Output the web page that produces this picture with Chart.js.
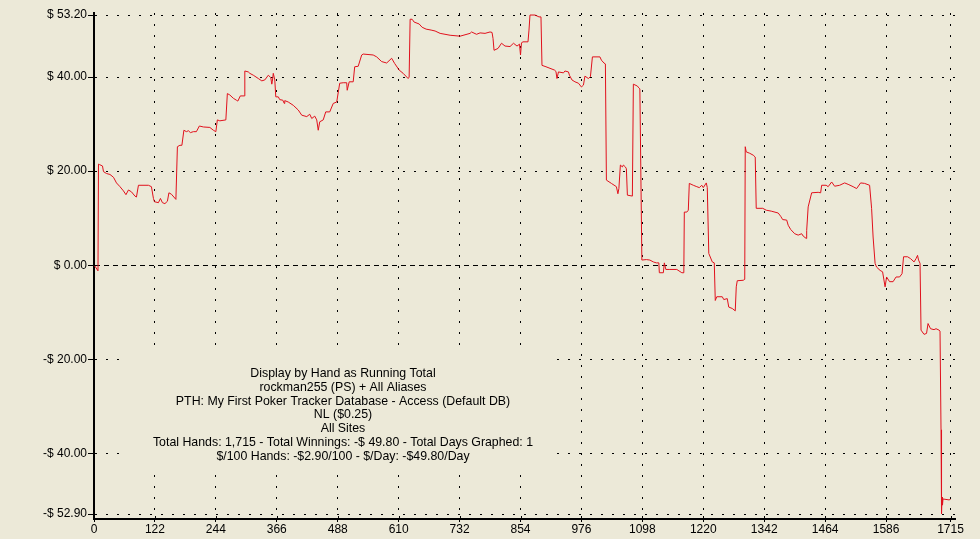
<!DOCTYPE html>
<html>
<head>
<meta charset="utf-8">
<script src="https://cdn.jsdelivr.net/npm/chart.js@4/dist/chart.umd.min.js"></script>
<style>
html,body{margin:0;padding:0;background:#ECE9D8;}
#wrap{width:980px;height:539px;position:relative;}
</style>
</head>
<body>
<div id="wrap"><canvas id="c" width="980" height="539"></canvas></div>
<script>
const hands = [0,2,8,9,11,17,19,25,32,39,45,52,59,64,69,75,82,85,89,109,115,119,121,129,133,137,142,147,150,155,164,167,172,176,180,185,189,193,199,205,211,219,232,239,244,247,252,264,267,272,279,285,288,293,301,302,309,312,319,329,336,342,349,354,356,357,359,362,364,369,372,378,381,382,389,399,409,416,426,432,436,442,446,449,452,459,464,472,479,486,492,499,506,507,511,519,522,529,536,539,559,566,576,586,596,602,611,619,629,631,633,637,641,651,657,665,675,683,693,713,733,753,756,766,773,783,793,797,799,801,809,816,823,833,840,847,852,854,856,859,869,871,873,883,891,895,897,905,922,925,927,930,940,943,950,952,957,963,970,976,980,983,990,994,998,1013,1016,1021,1024,1026,1036,1046,1049,1051,1054,1058,1060,1064,1066,1068,1078,1080,1088,1091,1093,1097,1106,1113,1120,1126,1131,1132,1140,1142,1145,1153,1167,1177,1181,1182,1187,1190,1192,1200,1207,1212,1217,1220,1226,1228,1231,1238,1242,1244,1247,1258,1261,1268,1271,1278,1284,1286,1288,1300,1303,1304,1306,1313,1320,1324,1326,1339,1346,1356,1370,1375,1379,1387,1390,1395,1403,1410,1417,1420,1426,1427,1430,1437,1450,1455,1457,1466,1470,1477,1483,1493,1503,1510,1520,1527,1535,1543,1553,1557,1560,1564,1567,1574,1579,1584,1587,1593,1600,1606,1613,1618,1621,1629,1635,1642,1646,1649,1651,1654,1656,1662,1667,1670,1675,1682,1686,1692,1694,1696,1697,1698,1699,1700,1712,1715];
const winnings = [0,-0.2,-1.2,21.5,21.4,21.1,19.9,19.5,19.3,18.7,17.5,16.7,15.8,15.0,16.0,15.6,14.7,14.5,17.0,17.0,16.7,14.2,13.5,13.3,14.2,13.3,13.1,13.6,15.4,15.1,14.0,25.2,25.5,25.5,28.7,28.4,28.6,28.2,28.4,28.4,29.6,29.4,29.3,28.7,28.4,30.9,30.7,30.9,36.5,36.2,35.5,35.1,34.9,36.0,36.0,41.3,41.1,40.8,40.4,39.7,39.2,39.4,40.4,39.9,38.5,39.0,40.8,39.4,35.8,35.8,35.2,35.1,34.4,35.0,34.7,34.0,33.0,31.9,31.6,32.1,31.2,31.7,30.9,28.7,30.5,30.9,32.6,32.6,34.4,34.7,38.7,38.8,38.8,37.2,39.0,39.0,42.2,42.3,44.7,44.9,44.7,44.3,43.3,43.0,44.0,42.9,41.5,40.8,39.7,40.0,52.3,52.3,51.7,51.3,50.6,50.2,50.0,49.8,49.3,48.9,48.7,49.3,49.6,49.1,49.4,49.3,49.6,49.5,48.2,45.7,46.1,47.2,46.6,46.5,47.2,46.6,47.0,44.7,47.3,47.5,47.5,50.0,53.2,53.2,52.8,52.8,42.5,42.2,41.5,41.2,39.7,41.1,40.9,41.3,41.1,40.4,39.4,39.0,38.7,37.9,38.3,40.2,39.7,40.1,44.3,44.3,43.6,43.0,42.8,18.1,17.4,16.7,15.2,16.3,21.3,20.9,21.3,20.9,20.5,14.9,14.7,38.5,38.1,37.7,37.5,1.1,1.2,1.1,0.7,0.5,0.5,-1.6,-1.6,0.5,-0.9,-0.9,-0.9,-1.6,-1.6,11.3,11.3,11.7,17.4,17.0,16.7,16.5,17.0,16.5,17.5,16.5,2.5,0.7,0.5,-7.5,-6.7,-6.7,-7.3,-7.1,-8.9,-9.2,-9.7,-4.6,-3.3,-3.2,-3.0,25.2,24.1,23.8,23.4,23.0,12.1,12.1,11.7,11.5,11.1,10.4,9.7,9.6,8.5,7.6,6.7,6.4,6.7,6.2,5.7,7.4,12.4,15.4,15.5,15.4,17.0,17.0,16.7,17.7,16.8,17.0,17.5,17.2,16.7,16.3,17.5,17.4,17.0,12.1,6.0,0.4,-0.4,-1.1,-1.4,-4.6,-2.5,-3.5,-3.5,-2.5,-2.5,-1.8,1.8,1.8,1.4,0.7,1.4,2.1,1.1,0.4,-13.8,-14.7,-14.5,-12.4,-13.5,-13.7,-13.5,-13.8,-14.0,-35.0,-52.9,-49.3,-51.0,-49.7,-49.9,-49.8];
const xTicks = [0,122,244,366,488,610,732,854,976,1098,1220,1342,1464,1586,1715];
const yTicks = [53.2,40,20,0,-20,-40,-52.9];
const infoLines = [
  "Display by Hand as Running Total",
  "rockman255 (PS) + All Aliases",
  "PTH: My First Poker Tracker Database - Access (Default DB)",
  "NL ($0.25)",
  "All Sites",
  "Total Hands: 1,715 - Total Winnings: -$ 49.80 - Total Days Graphed: 1",
  "$/100 Hands: -$2.90/100 - $/Day: -$49.80/Day"
];

const FONT = "Arial, 'Liberation Sans', sans-serif";

const infoPlugin = {
  id: 'info',
  beforeDatasetsDraw(chart) {
    // the info box hides the grid behind the text block
    const ctx = chart.ctx;
    ctx.save();
    ctx.fillStyle = "#ECE9D8";
    ctx.fillRect(128, 349, 428, 117);
    ctx.restore();
  },
  afterDraw(chart) {
    const ctx = chart.ctx;
    ctx.save();
    ctx.font = "12.35px " + FONT;
    ctx.fillStyle = "#000";
    ctx.textAlign = "center";
    ctx.textBaseline = "alphabetic";
    infoLines.forEach((t, i) => ctx.fillText(t, 343, 377 + i * 13.8));
    // inner halves of the cross-shaped tick marks
    const a = chart.chartArea;
    ctx.strokeStyle = "#000";
    ctx.lineWidth = 1;
    ctx.beginPath();
    chart.scales.y.ticks.forEach(t => {
      const y = Math.round(chart.scales.y.getPixelForValue(t.value)) + 0.5;
      ctx.moveTo(a.left, y); ctx.lineTo(a.left + 3, y);
    });
    chart.scales.x.ticks.forEach(t => {
      const x = Math.round(chart.scales.x.getPixelForValue(t.value)) + 0.5;
      ctx.moveTo(x, a.bottom); ctx.lineTo(x, a.bottom - 3);
    });
    ctx.stroke();
    ctx.restore();
  }
};

new Chart(document.getElementById('c'), {
  type: 'line',
  data: {
    datasets: [{
      data: hands.map((h, i) => ({x: h, y: winnings[i]})),
      borderColor: '#e0101c',
      borderWidth: 1,
      pointRadius: 0,
      tension: 0,
      fill: false
    }]
  },
  options: {
    responsive: false,
    animation: false,
    devicePixelRatio: 1,
    layout: {padding: {top: 13, right: 25, left: 0, bottom: 0}},
    plugins: {legend: {display: false}, tooltip: {enabled: false}},
    scales: {
      x: {
        type: 'linear',
        min: 0,
        max: 1724,
        afterBuildTicks: s => { s.ticks = xTicks.map(v => ({value: v})); },
        afterFit: s => { s.height = 20; },
        ticks: {
          autoSkip: false, maxRotation: 0, padding: 0,
          color: '#000', font: {family: FONT, size: 12},
          callback: v => String(v)
        },
        grid: {color: '#000', lineWidth: 1, tickLength: 3, tickColor: '#000'},
        border: {display: true, color: '#000', width: 2, dash: [2, 9]}
      },
      y: {
        type: 'linear',
        min: -53.96,
        max: 53.63,
        afterBuildTicks: s => { s.ticks = yTicks.map(v => ({value: v})); },
        afterFit: s => { s.width = 94; },
        ticks: {
          autoSkip: false, padding: 1,
          color: '#000', font: {family: FONT, size: 12},
          callback: v => (v < 0 ? '-' : '') + '$ ' + Math.abs(v).toFixed(2)
        },
        grid: {color: '#000', lineWidth: 1, tickLength: 6, tickColor: '#000'},
        border: {
          display: true, color: '#000', width: 2,
          dash: c => (c.tick && c.tick.value === 0) ? [5, 4] : [2, 9]
        }
      }
    }
  },
  plugins: [infoPlugin]
});
</script>
</body>
</html>
